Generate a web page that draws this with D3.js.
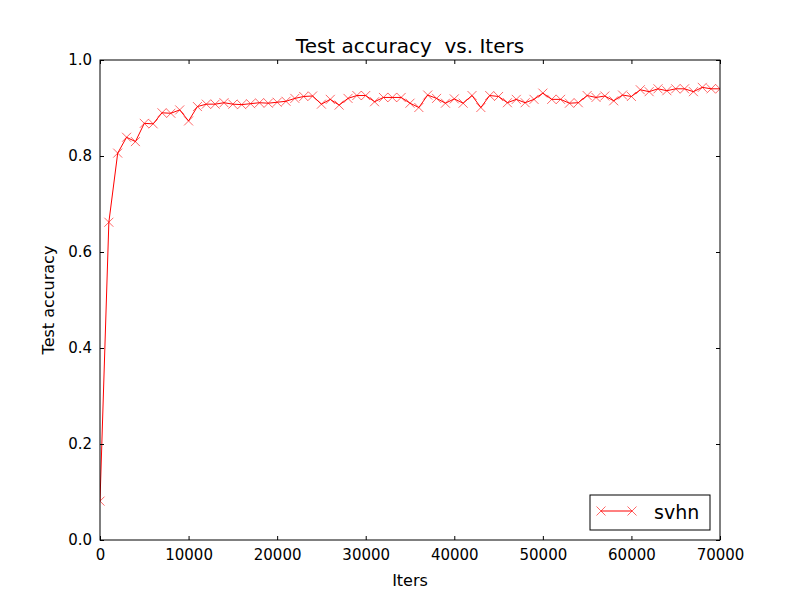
<!DOCTYPE html>
<html>
<head>
<meta charset="utf-8">
<script src="https://d3js.org/d3.v7.min.js"></script>
<style>
  body { margin: 0; background: #fff; }
  text { font-family: "DejaVu Sans", sans-serif; fill: #000; }
</style>
</head>
<body>
<script>
// test accuracy sampled every 1000 iterations
var iters = d3.range(0, 70001, 1000);
var accuracy = [
  0.081, 0.662, 0.806, 0.839, 0.830, 0.868, 0.867, 0.890, 0.889, 0.896,
  0.873, 0.903, 0.908, 0.908, 0.911, 0.908, 0.907, 0.909, 0.911, 0.910,
  0.912, 0.914, 0.920, 0.924, 0.925, 0.908, 0.918, 0.906, 0.920, 0.926,
  0.926, 0.913, 0.922, 0.922, 0.922, 0.910, 0.901, 0.927, 0.920, 0.910,
  0.919, 0.910, 0.926, 0.901, 0.926, 0.924, 0.911, 0.918, 0.911, 0.918,
  0.931, 0.918, 0.918, 0.910, 0.911, 0.926, 0.922, 0.925, 0.915, 0.927,
  0.924, 0.938, 0.934, 0.940, 0.936, 0.940, 0.940, 0.934, 0.943, 0.940,
  0.940
];
var xTicks = [0, 10000, 20000, 30000, 40000, 50000, 60000, 70000];
var yTicks = [0.0, 0.2, 0.4, 0.6, 0.8, 1.0];
var seriesName = "svhn";

var margin = {top: 60, right: 80, bottom: 60, left: 100},
    width = 800 - margin.left - margin.right,
    height = 600 - margin.top - margin.bottom;

var svg = d3.select("body").append("svg")
    .attr("width", 800)
    .attr("height", 600)
  .append("g")
    .attr("transform", "translate(" + margin.left + "," + margin.top + ")");

var xScale = d3.scaleLinear().domain([0, 70000]).range([0, width]);
var yScale = d3.scaleLinear().domain([0, 1]).range([height, 0]);

var data = iters.map(function(d, i) { return [d, accuracy[i]]; });

// clip so markers at the edges get cut by the frame like matplotlib
svg.append("clipPath").attr("id", "clip")
  .append("rect").attr("width", width).attr("height", height);

var lineGen = d3.line()
    .x(function(d) { return xScale(d[0]); })
    .y(function(d) { return yScale(d[1]); });

var plot = svg.append("g").attr("clip-path", "url(#clip)");

plot.append("path")
    .attr("d", lineGen(data))
    .attr("fill", "none")
    .attr("stroke", "#ff0000")
    .attr("stroke-width", 1);

var ms = 4.5;
function cross(sel) {
  sel.append("path")
    .attr("d", "M" + (-ms) + "," + (-ms) + "L" + ms + "," + ms +
               "M" + (-ms) + "," + ms + "L" + ms + "," + (-ms))
    .attr("fill", "none")
    .attr("stroke", "#ff0000")
    .attr("stroke-opacity", 0.75)
    .attr("stroke-width", 0.8);
}

plot.selectAll(".marker")
    .data(data)
  .enter().append("g")
    .attr("class", "marker")
    .attr("transform", function(d) { return "translate(" + xScale(d[0]) + "," + yScale(d[1]) + ")"; })
    .call(cross);

// axes: inward ticks on all four sides
var tickLen = 4;
svg.append("g")
    .attr("transform", "translate(0," + height + ")")
    .call(d3.axisBottom(xScale).tickValues(xTicks).tickSize(-tickLen).tickSizeOuter(0).tickPadding(9).tickFormat(d3.format("d")));
svg.append("g")
    .call(d3.axisTop(xScale).tickValues(xTicks).tickSize(-tickLen).tickSizeOuter(0).tickFormat(""));
svg.append("g")
    .call(d3.axisLeft(yScale).tickValues(yTicks).tickSize(-tickLen).tickSizeOuter(0).tickPadding(8).tickFormat(d3.format(".1f")));
svg.append("g")
    .attr("transform", "translate(" + width + ",0)")
    .call(d3.axisRight(yScale).tickValues(yTicks).tickSize(-tickLen).tickSizeOuter(0).tickFormat(""));

svg.selectAll(".domain").remove();
svg.selectAll(".tick line").attr("stroke", "#000").attr("stroke-width", 1);
svg.selectAll(".tick text")
    .attr("font-family", "DejaVu Sans, sans-serif")
    .attr("font-size", "15px")
    .attr("fill", "#000");

svg.append("rect")
    .attr("width", width)
    .attr("height", height)
    .attr("fill", "none")
    .attr("stroke", "#000")
    .attr("stroke-width", 1);

// title and labels
svg.append("text")
    .attr("x", width / 2)
    .attr("y", -7)
    .attr("text-anchor", "middle")
    .attr("font-size", "20px")
    .style("white-space", "pre")
    .text("Test accuracy  vs. Iters");

svg.append("text")
    .attr("x", width / 2)
    .attr("y", height + 46)
    .attr("text-anchor", "middle")
    .attr("font-size", "16px")
    .text("Iters");

svg.append("text")
    .attr("transform", "rotate(-90)")
    .attr("x", -height / 2)
    .attr("y", -46)
    .attr("text-anchor", "middle")
    .attr("font-size", "16px")
    .text("Test accuracy");

// legend
var legend = svg.append("g")
    .attr("transform", "translate(" + (width - 130) + "," + (height - 45) + ")");
legend.append("rect")
    .attr("width", 120)
    .attr("height", 35)
    .attr("fill", "#fff")
    .attr("stroke", "#000")
    .attr("stroke-width", 1);
legend.append("line")
    .attr("x1", 11).attr("x2", 42)
    .attr("y1", 16).attr("y2", 16)
    .attr("stroke", "#ff0000")
    .attr("stroke-width", 1);
legend.selectAll(".lm")
    .data([11, 42])
  .enter().append("g")
    .attr("class", "lm")
    .attr("transform", function(d) { return "translate(" + d + ",16)"; })
    .call(cross);
legend.append("text")
    .attr("x", 64)
    .attr("y", 24)
    .attr("font-size", "19px")
    .text(seriesName);
</script>
</body>
</html>
